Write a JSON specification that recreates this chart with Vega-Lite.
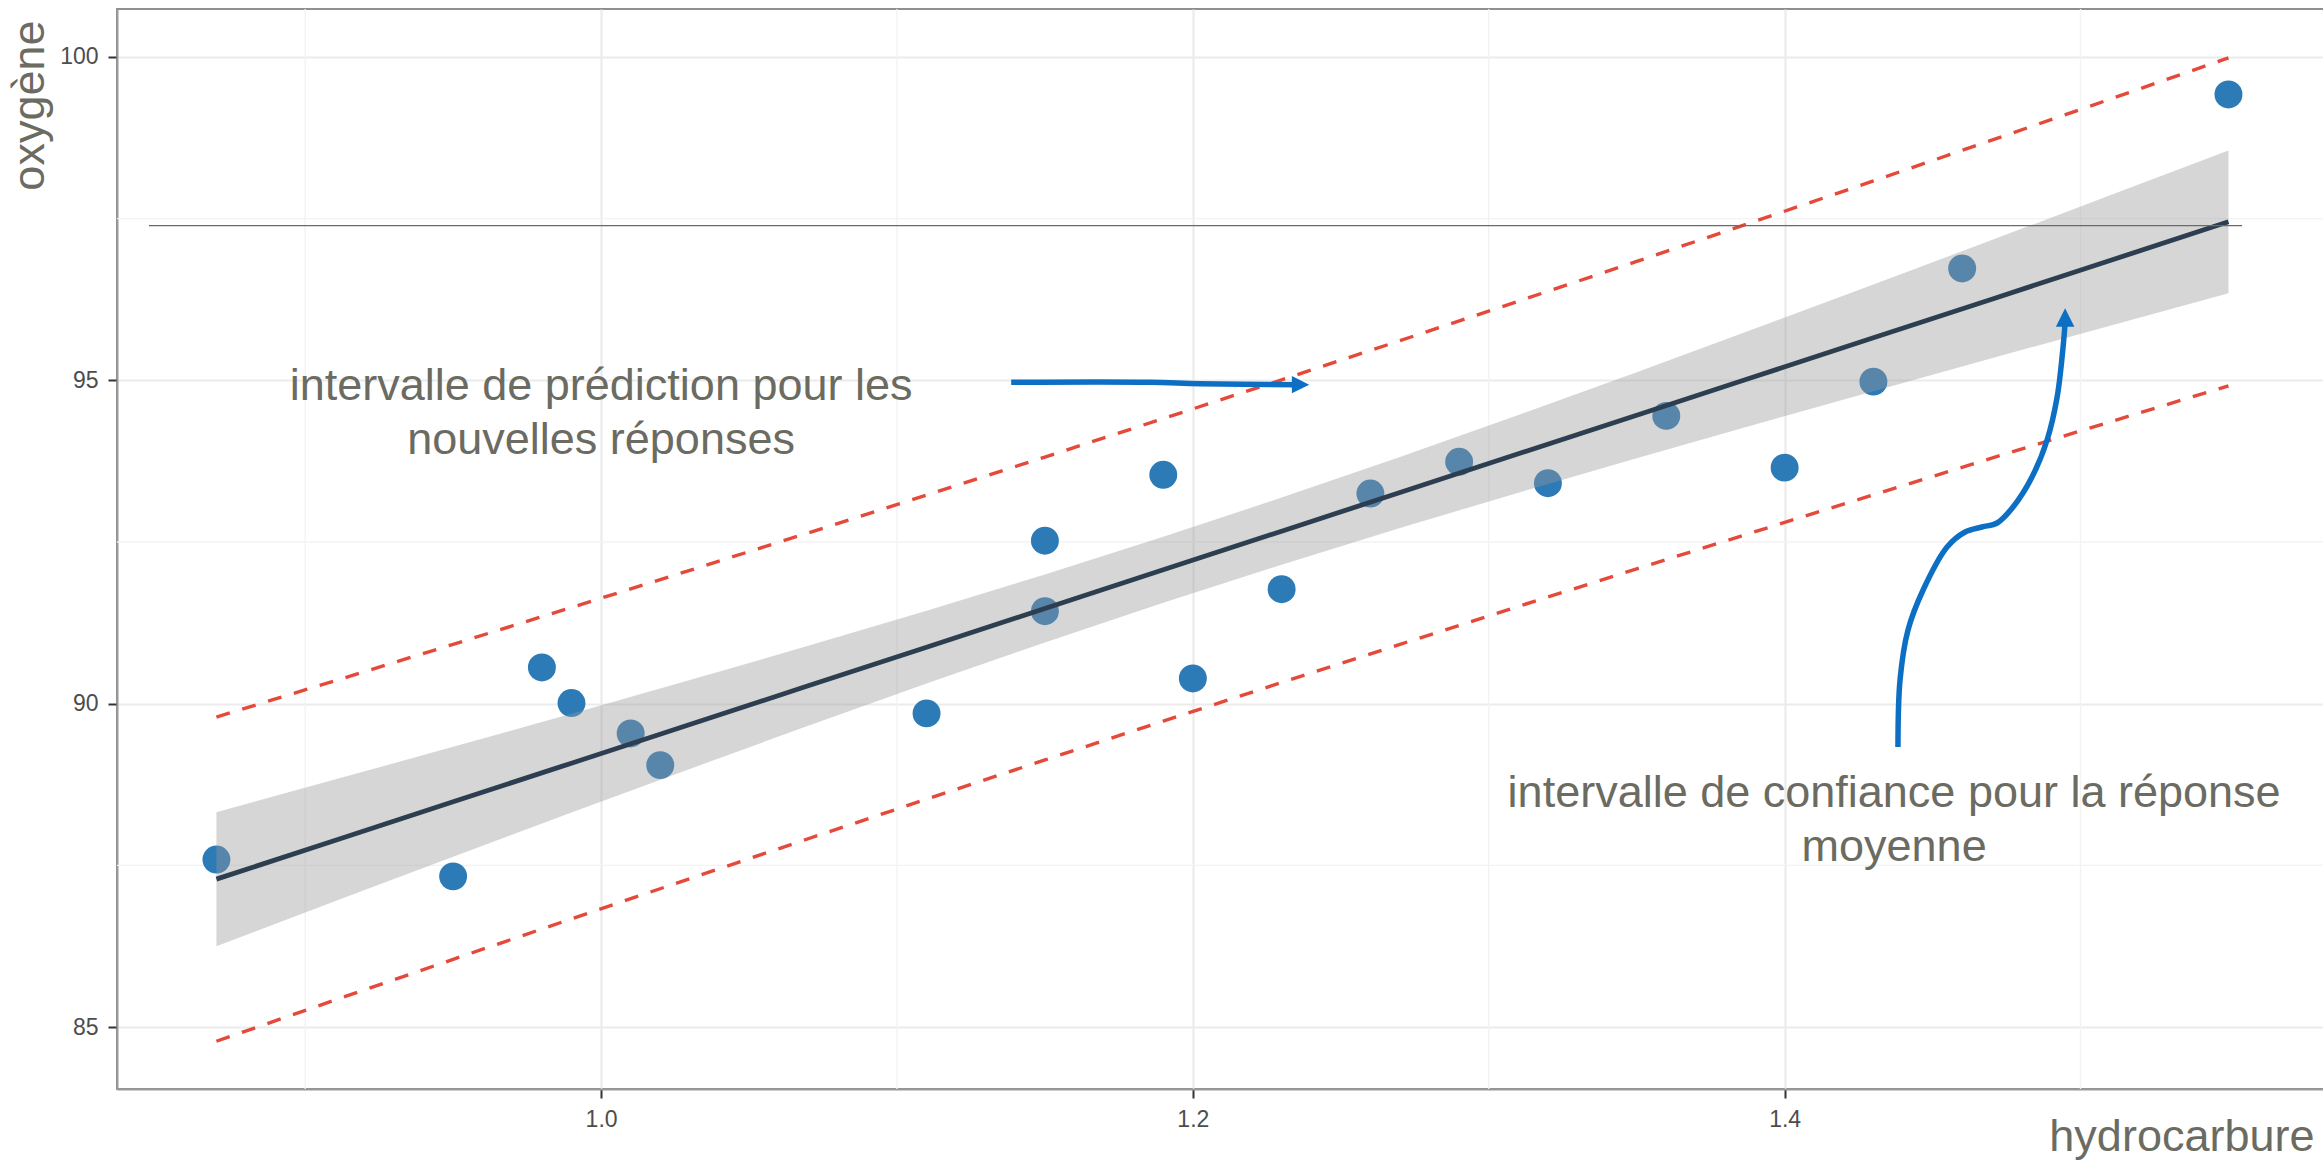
{
  "$schema": "https://vega.github.io/schema/vega-lite/v6.json",
  "autosize": {"type": "none"},
  "padding": {"left": 117, "top": 9, "right": 0, "bottom": 73},
  "width": 2210,
  "height": 1080,
  "background": "white",
  "config": {
    "view": {"stroke": "#8f8f8f", "strokeWidth": 2},
    "axis": {
      "gridColor": "#ebebeb",
      "gridWidth": 2.2,
      "domainColor": "#9a9a9a",
      "domainWidth": 2,
      "tickColor": "#333333",
      "tickWidth": 2,
      "tickSize": 9,
      "labelFont": "Liberation Sans",
      "labelFontSize": 23,
      "labelColor": "#4d4d4d",
      "labelPadding": 10,
      "titleFont": "Liberation Sans",
      "titleFontSize": 45,
      "titleFontWeight": "normal",
      "titleColor": "#6b6b62"
    }
  },
  "datasets": {
    "pts": [
      {"x": 0.99, "y": 90.01}, {"x": 1.02, "y": 89.05}, {"x": 1.15, "y": 91.43}, {"x": 1.29, "y": 93.74},
      {"x": 1.46, "y": 96.73}, {"x": 1.36, "y": 94.45}, {"x": 0.87, "y": 87.59}, {"x": 1.23, "y": 91.77},
      {"x": 1.55, "y": 99.42}, {"x": 1.40, "y": 93.65}, {"x": 1.19, "y": 93.54}, {"x": 1.15, "y": 92.52},
      {"x": 0.98, "y": 90.56}, {"x": 1.01, "y": 89.54}, {"x": 1.11, "y": 89.85}, {"x": 1.20, "y": 90.39},
      {"x": 1.26, "y": 93.25}, {"x": 1.32, "y": 93.41}, {"x": 1.43, "y": 94.98}, {"x": 0.95, "y": 87.33}
    ],
    "band": [
      {"x": 0.87, "fit": 87.2869, "lo": 86.2508, "hi": 88.3230, "plo": 84.7804, "phi": 89.7934},
      {"x": 0.91, "fit": 87.8848, "lo": 86.9434, "hi": 88.8262, "plo": 85.4160, "phi": 90.3536},
      {"x": 0.95, "fit": 88.4827, "lo": 87.6322, "hi": 89.3332, "plo": 86.0470, "phi": 90.9184},
      {"x": 0.99, "fit": 89.0805, "lo": 88.3156, "hi": 89.8454, "plo": 86.6734, "phi": 91.4876},
      {"x": 1.03, "fit": 89.6784, "lo": 88.9919, "hi": 90.3649, "plo": 87.2951, "phi": 92.0617},
      {"x": 1.07, "fit": 90.2763, "lo": 89.6583, "hi": 90.8943, "plo": 87.9118, "phi": 92.6408},
      {"x": 1.11, "fit": 90.8742, "lo": 90.3111, "hi": 91.4373, "plo": 88.5235, "phi": 93.2249},
      {"x": 1.15, "fit": 91.4721, "lo": 90.9461, "hi": 91.9981, "plo": 89.1300, "phi": 93.8142},
      {"x": 1.19, "fit": 92.0699, "lo": 91.5593, "hi": 92.5805, "plo": 89.7312, "phi": 94.4086},
      {"x": 1.23, "fit": 92.6678, "lo": 92.1489, "hi": 93.1867, "plo": 90.3273, "phi": 95.0083},
      {"x": 1.27, "fit": 93.2657, "lo": 92.7158, "hi": 93.8156, "plo": 90.9181, "phi": 95.6133},
      {"x": 1.31, "fit": 93.8636, "lo": 93.2637, "hi": 94.4635, "plo": 91.5038, "phi": 96.2234},
      {"x": 1.35, "fit": 94.4615, "lo": 93.7968, "hi": 95.1262, "plo": 92.0844, "phi": 96.8386},
      {"x": 1.39, "fit": 95.0593, "lo": 94.3188, "hi": 95.7998, "plo": 92.6599, "phi": 97.4587},
      {"x": 1.43, "fit": 95.6572, "lo": 94.8330, "hi": 96.4814, "plo": 93.2306, "phi": 98.0838},
      {"x": 1.47, "fit": 96.2551, "lo": 95.3414, "hi": 97.1688, "plo": 93.7967, "phi": 98.7135},
      {"x": 1.51, "fit": 96.8530, "lo": 95.8457, "hi": 97.8603, "plo": 94.3583, "phi": 99.3477},
      {"x": 1.55, "fit": 97.4509, "lo": 96.3467, "hi": 98.5551, "plo": 94.9155, "phi": 99.9863}
    ],
    "vgrid": [{"x": 0.9}, {"x": 1.1}, {"x": 1.3}, {"x": 1.5}],
    "hgrid": [{"y": 87.5}, {"y": 92.5}, {"y": 97.5}],
    "hline": [{"x": 0.8472, "x2": 1.5546, "y": 97.391}],
    "arrows": [
      {"id": "a", "i": 0, "x": 1.1386, "y": 94.970},
      {"id": "a", "i": 1, "x": 1.1855, "y": 94.970},
      {"id": "a", "i": 2, "x": 1.2024, "y": 94.948},
      {"id": "a", "i": 3, "x": 1.2350, "y": 94.933},
      {"id": "b", "i": 0, "x": 1.4383, "y": 89.331},
      {"id": "b", "i": 1, "x": 1.4390, "y": 90.366},
      {"id": "b", "i": 2, "x": 1.4417, "y": 91.140},
      {"id": "b", "i": 3, "x": 1.4468, "y": 91.758},
      {"id": "b", "i": 4, "x": 1.4549, "y": 92.423},
      {"id": "b", "i": 5, "x": 1.4610, "y": 92.655},
      {"id": "b", "i": 6, "x": 1.4667, "y": 92.732},
      {"id": "b", "i": 7, "x": 1.4718, "y": 92.794},
      {"id": "b", "i": 8, "x": 1.4772, "y": 93.042},
      {"id": "b", "i": 9, "x": 1.4836, "y": 93.505},
      {"id": "b", "i": 10, "x": 1.4887, "y": 94.078},
      {"id": "b", "i": 11, "x": 1.4921, "y": 94.743},
      {"id": "b", "i": 12, "x": 1.4941, "y": 95.516},
      {"id": "b", "i": 13, "x": 1.4948, "y": 95.900}
    ],
    "headRight": [{"x": 1.2364, "y": 94.933}],
    "headUp": [{"x": 1.4948, "y": 95.972}],
    "labels": [
      {"x": 1.0, "y": 94.913, "t": "intervalle de prédiction pour les"},
      {"x": 1.0, "y": 94.078, "t": "nouvelles réponses"},
      {"x": 1.437, "y": 88.619, "t": "intervalle de confiance pour la réponse"},
      {"x": 1.437, "y": 87.784, "t": "moyenne"}
    ]
  },
  "layer": [
    {
      "data": {"name": "vgrid"},
      "mark": {"type": "rule", "color": "#f3f3f3", "strokeWidth": 1.4},
      "encoding": {
        "x": {"field": "x", "type": "quantitative", "title": "hydrocarbure", "scale": {"domain": [0.8364, 1.5833], "nice": false, "zero": false},
          "axis": {"values": [1.0, 1.2, 1.4], "format": ".1f", "grid": true,
            "titleX": 2197, "titleY": 61, "titleAlign": "right", "titleBaseline": "alphabetic", "titleAnchor": "end"}}
      }
    },
    {
      "data": {"name": "hgrid"},
      "mark": {"type": "rule", "color": "#f3f3f3", "strokeWidth": 1.4},
      "encoding": {
        "y": {"field": "y", "type": "quantitative", "title": "oxygène", "scale": {"domain": [84.042, 100.742], "nice": false, "zero": false},
          "axis": {"values": [85, 90, 95, 100], "format": "d", "grid": true,
            "titleX": -74, "titleY": 11, "titleAngle": 270, "titleAlign": "right", "titleBaseline": "alphabetic", "titleAnchor": "end"}}
      }
    },
    {
      "data": {"name": "pts"},
      "mark": {"type": "point", "filled": true, "opacity": 1, "color": "#2c7bb6", "size": 780, "strokeWidth": 0},
      "encoding": {
        "x": {"field": "x", "type": "quantitative", "title": "hydrocarbure"},
        "y": {"field": "y", "type": "quantitative", "title": "oxygène"}
      }
    },
    {
      "data": {"name": "band"},
      "mark": {"type": "area", "color": "#999999", "opacity": 0.4},
      "encoding": {
        "x": {"field": "x", "type": "quantitative", "title": "hydrocarbure"},
        "y": {"field": "lo", "type": "quantitative", "title": "oxygène"},
        "y2": {"field": "hi"}
      }
    },
    {
      "data": {"name": "band"},
      "mark": {"type": "line", "color": "#2c3e50", "strokeWidth": 4.8},
      "encoding": {
        "x": {"field": "x", "type": "quantitative", "title": "hydrocarbure"},
        "y": {"field": "fit", "type": "quantitative", "title": "oxygène"}
      }
    },
    {
      "data": {"name": "band"},
      "mark": {"type": "line", "color": "#e5493a", "strokeWidth": 3.4, "strokeDash": [14, 13]},
      "encoding": {
        "x": {"field": "x", "type": "quantitative", "title": "hydrocarbure"},
        "y": {"field": "plo", "type": "quantitative", "title": "oxygène"}
      }
    },
    {
      "data": {"name": "band"},
      "mark": {"type": "line", "color": "#e5493a", "strokeWidth": 3.4, "strokeDash": [14, 13]},
      "encoding": {
        "x": {"field": "x", "type": "quantitative", "title": "hydrocarbure"},
        "y": {"field": "phi", "type": "quantitative", "title": "oxygène"}
      }
    },
    {
      "data": {"name": "hline"},
      "mark": {"type": "rule", "color": "#6a6a6a", "strokeWidth": 1.3},
      "encoding": {
        "x": {"field": "x", "type": "quantitative", "title": "hydrocarbure"},
        "x2": {"field": "x2"},
        "y": {"field": "y", "type": "quantitative", "title": "oxygène"}
      }
    },
    {
      "data": {"name": "arrows"},
      "mark": {"type": "line", "color": "#0d6fc4", "strokeWidth": 5.5, "interpolate": "catmull-rom"},
      "encoding": {
        "x": {"field": "x", "type": "quantitative", "title": "hydrocarbure"},
        "y": {"field": "y", "type": "quantitative", "title": "oxygène"},
        "detail": {"field": "id"},
        "order": {"field": "i", "type": "quantitative"}
      }
    },
    {
      "data": {"name": "headRight"},
      "mark": {"type": "point", "filled": true, "opacity": 1, "color": "#0d6fc4", "strokeWidth": 0, "size": 300, "shape": "M -1 -1 L 1 0 L -1 1 Z"},
      "encoding": {
        "x": {"field": "x", "type": "quantitative", "title": "hydrocarbure"},
        "y": {"field": "y", "type": "quantitative", "title": "oxygène"}
      }
    },
    {
      "data": {"name": "headUp"},
      "mark": {"type": "point", "filled": true, "opacity": 1, "color": "#0d6fc4", "strokeWidth": 0, "size": 340, "shape": "M -1 1 L 0 -1 L 1 1 Z"},
      "encoding": {
        "x": {"field": "x", "type": "quantitative", "title": "hydrocarbure"},
        "y": {"field": "y", "type": "quantitative", "title": "oxygène"}
      }
    },
    {
      "data": {"name": "labels"},
      "mark": {"type": "text", "font": "Liberation Sans", "fontSize": 45, "color": "#6b6b62", "align": "center", "baseline": "middle"},
      "encoding": {
        "x": {"field": "x", "type": "quantitative", "title": "hydrocarbure"},
        "y": {"field": "y", "type": "quantitative", "title": "oxygène"},
        "text": {"field": "t"}
      }
    }
  ]
}
